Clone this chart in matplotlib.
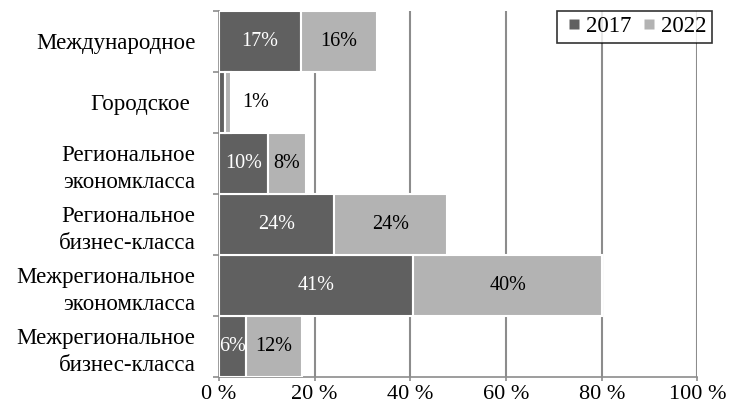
import matplotlib
matplotlib.use("Agg")
import matplotlib.pyplot as plt
from matplotlib.lines import Line2D
import numpy as np

plt.rcParams["font.family"] = ["Liberation Serif", "DejaVu Serif"]

# categories listed bottom -> top
categories = [
    "Межрегиональное\nбизнес-класса",
    "Межрегиональное\nэкономкласса",
    "Региональное\nбизнес-класса",
    "Региональное\nэкономкласса",
    "Городское ",
    "Международное",
]
share_2017 = [5.6, 40.6, 24.1, 10.3, 1.2, 17.1]
share_2022 = [11.7, 39.5, 23.5, 7.8, 1.4, 15.9]
labels_2017 = ["6%", "41%", "24%", "10%", "", "17%"]
labels_2022 = ["12%", "40%", "24%", "8%", "1%", "16%"]
xticks = [0, 20, 40, 60, 80, 100]

dark = "#606060"
light = "#b3b3b3"
grid_col = "#8c8c8c"

fig = plt.figure(figsize=(7.37, 4.05), dpi=100)
ax = fig.add_axes([0.297, 0.069, 0.6494, 0.904])

y = np.arange(len(categories))
ax.barh(y, share_2017, height=1.0, color=dark, edgecolor="white",
        linewidth=1.5, zorder=3)
ax.barh(y, share_2022, left=share_2017, height=1.0, color=light,
        edgecolor="white", linewidth=1.5, zorder=3)

for i in range(len(categories)):
    s1, s2 = share_2017[i], share_2022[i]
    if labels_2017[i]:
        ax.text(s1 / 2, y[i], labels_2017[i], ha="center", va="center",
                color="white", fontsize=14.5, zorder=4)
    if s2 < 3:
        # label too wide for the segment: put it next to the bar
        ax.text(s1 + s2 + 2.2, y[i], labels_2022[i], ha="left", va="center",
                color="black", fontsize=14.5, zorder=4)
    else:
        ax.text(s1 + s2 / 2, y[i], labels_2022[i], ha="center", va="center",
                color="black", fontsize=14.5, zorder=4)

ax.set_xlim(0, 100)
ax.set_ylim(-0.5, len(categories) - 0.5)
ax.set_xticks(xticks)
ax.set_xticklabels([f"{v} %" for v in xticks])
ax.set_yticks(y)
ax.set_yticklabels(categories, linespacing=1.4)
ax.set_yticks(np.arange(-0.5, len(categories)), minor=True)

ax.tick_params(axis="y", which="major", length=0, pad=17, labelsize=16.5)
ax.tick_params(axis="y", which="minor", length=4, color=grid_col, width=1.2)
ax.tick_params(axis="x", length=3, color=grid_col, width=1.2, labelsize=16, pad=2.5)

ax.xaxis.grid(True, color=grid_col, linewidth=1.5, zorder=0)
ax.set_axisbelow(True)
for side in ["top", "right"]:
    ax.spines[side].set_visible(False)
for side in ["left", "bottom"]:
    ax.spines[side].set_color(grid_col)
    ax.spines[side].set_linewidth(1.2)

handles = [
    Line2D([], [], marker="s", markersize=7, linestyle="none",
           color=dark, markeredgecolor="none", label="2017"),
    Line2D([], [], marker="s", markersize=7, linestyle="none",
           color=light, markeredgecolor="none", label="2022"),
]
leg = fig.legend(handles=handles, loc="upper right",
                 bbox_to_anchor=(712 / 737, 1 - 10.7 / 405), ncol=2,
                 fontsize=16.5, frameon=True, fancybox=False,
                 handlelength=1.0, handletextpad=0.0,
                 columnspacing=0.3, borderpad=0.25, borderaxespad=0)
leg.get_frame().set_edgecolor("black")
leg.get_frame().set_linewidth(1.2)

fig.savefig("out.png", dpi=100)
